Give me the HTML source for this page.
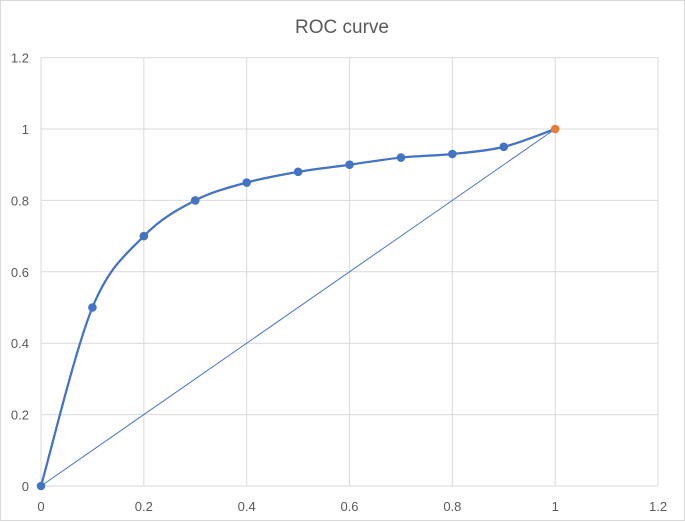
<!DOCTYPE html>
<html><head><meta charset="utf-8"><style>
body{margin:0;background:#fff}
svg{display:block;font-family:"Liberation Sans",sans-serif}
</style></head><body>
<svg id="c" width="685" height="523">
<rect x="0.5" y="0.5" width="684" height="520" fill="#fff" stroke="#d9d9d9"/>
<text x="342" y="33" text-anchor="middle" font-size="19" fill="#595959">ROC curve</text>
<g id="grid"></g><g id="marks"></g>
</svg>
<script>
const xTicks=[0,0.2,0.4,0.6,0.8,1,1.2];
const yTicks=[0,0.2,0.4,0.6,0.8,1,1.2];
const fprValues=[0,0.1,0.2,0.3,0.4,0.5,0.6,0.7,0.8,0.9,1];
const tprValues=[0,0.5,0.7,0.8,0.85,0.88,0.9,0.92,0.93,0.95,1];
const diagX=[0,1];
const diagY=[0,1];
const NS='http://www.w3.org/2000/svg';
const X=v=>41+v*514.2, Y=v=>486-v*357;
function mk(t,a,p){const e=document.createElementNS(NS,t);for(const k in a)e.setAttribute(k,a[k]);p.appendChild(e);return e;}
const g=document.getElementById('grid'),m=document.getElementById('marks');
xTicks.forEach(v=>{
 const l=mk('line',{x1:X(v),x2:X(v),y1:Y(0),y2:Y(1.2),stroke:'#d9d9d9'},g);
 
 
 const t=mk('text',{x:X(v),y:511,'text-anchor':'middle','font-size':13,fill:'#595959'},g);t.textContent=String(v);
 
 
});
yTicks.forEach(v=>{
 const l=mk('line',{x1:X(0),x2:X(1.2),y1:Y(v),y2:Y(v),stroke:'#d9d9d9'},g);
 
 
 const t=mk('text',{x:29,y:Y(v)+5,'text-anchor':'end','font-size':13,fill:'#595959'},g);t.textContent=String(v);
 
 
});
const dl=mk('line',{x1:X(diagX[0]),y1:Y(diagY[0]),x2:X(diagX[1]),y2:Y(diagY[1]),stroke:'#4472c4','stroke-width':1},m);


const P=fprValues.map((v,i)=>[X(v),Y(tprValues[i])]);
let d='M'+P[0][0]+' '+P[0][1];
for(let i=0;i<P.length-1;i++){
 const p0=P[Math.max(0,i-1)],p1=P[i],p2=P[i+1],p3=P[Math.min(P.length-1,i+2)],k=6;
 d+=` C${p1[0]+(p2[0]-p0[0])/k} ${p1[1]+(p2[1]-p0[1])/k} ${p2[0]-(p3[0]-p1[0])/k} ${p2[1]-(p3[1]-p1[1])/k} ${p2[0]} ${p2[1]}`;
}
const cv=mk('path',{d:d,fill:'none',stroke:'#4472c4','stroke-width':2.25},m);


P.forEach((p,i)=>{
 const last=i===P.length-1;
 const c=mk('circle',{cx:p[0],cy:p[1],r:4.3,fill:last?'#ed7d31':'#4472c4'},m);
 
 
});
</script>
</body></html>
